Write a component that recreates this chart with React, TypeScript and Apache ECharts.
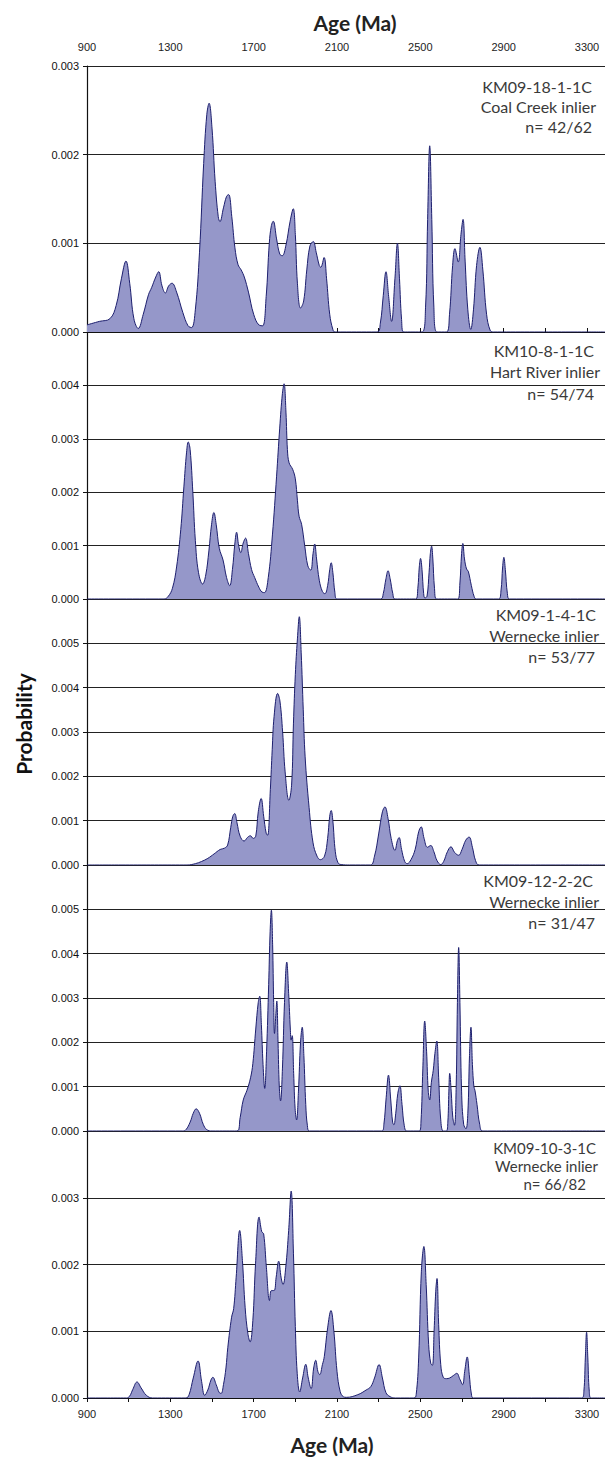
import React, { useEffect, useRef } from "react";
import * as echarts from "echarts";

// Age tick labels (Ma)
const xTickLabels = [900, 1300, 1700, 2100, 2500, 2900, 3300];
const yMaxes = [0.003, 0.005, 0.006, 0.006, 0.004];

// Sample names / regions / counts
const sampleIds = ["KM09-18-1-1C", "KM10-8-1-1C", "KM09-1-4-1C", "KM09-12-2-2C", "KM09-10-3-1C"];
const sampleRegions = ["Coal Creek inlier", "Hart River inlier", "Wernecke inlier", "Wernecke inlier", "Wernecke inlier"];
const sampleCounts = ["n= 42/62", "n= 54/74", "n= 53/77", "n= 31/47", "n= 66/82"];

// Probability density curves: [age Ma, probability x 0.001]
const curve1 = [
  [900, 0.08], [960, 0.12], [1010, 0.15], [1040, 0.3], [1065, 0.6], [1087, 0.8], [1105, 0.55], [1125, 0.15],
  [1146, 0.04], [1170, 0.2], [1195, 0.42], [1210, 0.5], [1230, 0.62], [1244, 0.68], [1260, 0.52], [1276, 0.44],
  [1292, 0.52], [1308, 0.55], [1330, 0.45], [1360, 0.22], [1385, 0.07], [1402, 0.05], [1420, 0.25], [1440, 0.9],
  [1460, 1.9], [1475, 2.45], [1486, 2.58], [1500, 2.3], [1515, 1.7], [1530, 1.3], [1538, 1.245], [1555, 1.4],
  [1570, 1.53], [1580, 1.55], [1595, 1.3], [1610, 0.95], [1625, 0.76], [1640, 0.7], [1655, 0.62], [1675, 0.45],
  [1700, 0.2], [1725, 0.08], [1743, 0.07], [1760, 0.4], [1775, 1.0], [1785, 1.2], [1794, 1.25], [1810, 1.05],
  [1825, 0.88], [1837, 0.86], [1855, 0.98], [1875, 1.25], [1890, 1.39], [1900, 1.1], [1910, 0.55], [1925, 0.27],
  [1940, 0.35], [1955, 0.7], [1970, 0.97], [1986, 1.02], [2000, 0.9], [2015, 0.75], [2022, 0.73], [2038, 0.84],
  [2050, 0.6], [2065, 0.2], [2080, 0.03], [2090, 0], [2292, 0], [2308, 0.1], [2322, 0.41], [2335, 0.68],
  [2348, 0.4], [2362, 0.12], [2378, 0.6], [2390, 1.0], [2400, 0.6], [2410, 0.14], [2420, 0], [2508, 0],
  [2525, 0.28], [2535, 1.27], [2545, 2.1], [2555, 1.27], [2565, 0.28], [2580, 0], [2625, 0], [2640, 0.2],
  [2655, 0.75], [2666, 0.94], [2682, 0.79], [2695, 1.1], [2705, 1.27], [2715, 0.8], [2728, 0.25], [2742, 0.03],
  [2755, 0.25], [2770, 0.75], [2786, 0.955], [2800, 0.7], [2818, 0.2], [2835, 0.02], [2850, 0], [3387, 0],
];

const curve2 = [
  [900, 0], [1270, 0], [1290, 0.05], [1310, 0.2], [1330, 0.6], [1350, 1.3], [1365, 2.1], [1378, 2.75],
  [1386, 2.94], [1395, 2.8], [1408, 2.0], [1420, 1.1], [1435, 0.5], [1455, 0.28], [1470, 0.45], [1485, 0.9],
  [1498, 1.4], [1509, 1.62], [1520, 1.4], [1535, 0.95], [1553, 0.73], [1570, 0.4], [1585, 0.25], [1598, 0.55],
  [1610, 1.05], [1618, 1.25], [1628, 1.0], [1638, 0.87], [1650, 1.05], [1661, 1.14], [1675, 0.85], [1690, 0.55],
  [1705, 0.4], [1725, 0.22], [1740, 0.13], [1752, 0.12], [1770, 0.4], [1790, 1.2], [1810, 2.3], [1825, 3.2],
  [1838, 3.85], [1846, 4.03], [1855, 3.5], [1862, 2.8], [1870, 2.55], [1887, 2.43], [1900, 2.25], [1910, 1.85],
  [1918, 1.55], [1930, 1.4], [1945, 1.0], [1960, 0.62], [1974, 0.54], [1985, 0.85], [1993, 1.03], [2002, 0.75],
  [2015, 0.35], [2030, 0.14], [2042, 0.1], [2055, 0.25], [2065, 0.55], [2072, 0.68], [2080, 0.5], [2090, 0.12],
  [2100, 0], [2310, 0], [2322, 0.1], [2335, 0.38], [2345, 0.53], [2355, 0.38], [2368, 0.1], [2378, 0],
  [2478, 0], [2488, 0.2], [2495, 0.6], [2501, 0.76], [2508, 0.55], [2516, 0.1], [2522, 0.02], [2532, 0.05],
  [2542, 0.5], [2548, 0.85], [2554, 0.99], [2560, 0.75], [2568, 0.2], [2578, 0], [2680, 0], [2690, 0.3],
  [2698, 0.85], [2704, 1.04], [2712, 0.75], [2722, 0.56], [2730, 0.52], [2745, 0.25], [2758, 0.05], [2768, 0],
  [2875, 0], [2887, 0.15], [2895, 0.6], [2901, 0.78], [2908, 0.55], [2918, 0.1], [2928, 0], [3387, 0],
];

const curve3 = [
  [900, 0], [1380, 0], [1420, 0.03], [1450, 0.08], [1480, 0.15], [1510, 0.25], [1539, 0.35], [1560, 0.38],
  [1575, 0.45], [1590, 0.85], [1600, 1.1], [1609, 1.16], [1620, 0.95], [1635, 0.65], [1654, 0.54], [1670, 0.62],
  [1684, 0.66], [1698, 0.6], [1710, 0.65], [1722, 1.2], [1736, 1.5], [1748, 1.1], [1760, 0.72], [1767, 0.67],
  [1780, 1.7], [1789, 2.6], [1798, 3.35], [1815, 3.87], [1826, 3.7], [1839, 3.0], [1851, 2.1], [1869, 1.46],
  [1882, 1.8], [1891, 3.2], [1900, 4.3], [1910, 5.1], [1919, 5.6], [1928, 4.8], [1938, 3.5], [1947, 2.44],
  [1966, 1.3], [1985, 0.5], [2004, 0.2], [2020, 0.12], [2040, 0.2], [2055, 0.6], [2065, 1.1], [2072, 1.23],
  [2080, 1.0], [2092, 0.3], [2105, 0.05], [2120, 0.01], [2160, 0], [2260, 0], [2280, 0.2], [2300, 0.7],
  [2318, 1.2], [2330, 1.31], [2345, 1.05], [2360, 0.6], [2378, 0.33], [2390, 0.55], [2398, 0.62], [2410, 0.35],
  [2425, 0.08], [2437, 0.03], [2455, 0.12], [2475, 0.35], [2492, 0.75], [2504, 0.86], [2518, 0.6], [2534, 0.4],
  [2550, 0.44], [2565, 0.3], [2580, 0.1], [2598, 0.01], [2612, 0.08], [2630, 0.3], [2647, 0.41], [2665, 0.28],
  [2684, 0.22], [2700, 0.35], [2718, 0.56], [2734, 0.63], [2750, 0.4], [2765, 0.1], [2782, 0], [3387, 0],
];

const curve4 = [
  [900, 0], [1360, 0], [1375, 0.03], [1395, 0.2], [1410, 0.4], [1424, 0.5], [1440, 0.4], [1458, 0.15],
  [1475, 0.03], [1500, 0], [1620, 0], [1635, 0.3], [1650, 0.7], [1668, 0.92], [1685, 1.2], [1696, 1.52],
  [1710, 2.3], [1722, 2.9], [1729, 3.04], [1737, 2.4], [1745, 1.5], [1753, 0.96], [1762, 1.8], [1772, 3.3],
  [1779, 4.5], [1785, 4.98], [1791, 4.2], [1796, 2.9], [1800, 2.2], [1806, 2.6], [1811, 2.93], [1817, 2.0],
  [1823, 1.0], [1829, 0.68], [1838, 1.4], [1848, 2.9], [1859, 3.81], [1868, 3.1], [1876, 2.3], [1880, 2.05],
  [1885, 2.15], [1892, 1.3], [1899, 0.5], [1906, 0.25], [1915, 0.9], [1925, 2.0], [1933, 2.34], [1941, 1.7],
  [1950, 0.6], [1958, 0.12], [1968, 0], [2315, 0], [2325, 0.15], [2336, 0.75], [2347, 1.26], [2358, 0.7],
  [2367, 0.2], [2373, 0.14], [2382, 0.4], [2392, 0.85], [2402, 1.02], [2412, 0.6], [2423, 0.12], [2435, 0],
  [2495, 0], [2503, 0.2], [2512, 1.4], [2521, 2.48], [2530, 1.8], [2538, 0.9], [2545, 0.7], [2553, 1.1],
  [2562, 1.37], [2570, 1.75], [2579, 2.03], [2588, 1.2], [2598, 0.25], [2610, 0], [2625, 0], [2632, 0.2],
  [2637, 0.9], [2641, 1.3], [2648, 0.9], [2656, 0.3], [2664, 0.13], [2672, 1.0], [2678, 2.9], [2684, 4.14],
  [2690, 2.9], [2698, 0.9], [2708, 0.15], [2719, 0.05], [2728, 0.4], [2736, 1.7], [2743, 2.34], [2750, 1.5],
  [2757, 1.0], [2762, 0.92], [2772, 0.6], [2785, 0.15], [2800, 0], [3387, 0],
];

const curve5 = [
  [900, 0], [1090, 0], [1105, 0.03], [1120, 0.13], [1140, 0.24], [1160, 0.15], [1185, 0.04], [1215, 0],
  [1375, 0], [1390, 0.05], [1410, 0.3], [1433, 0.555], [1450, 0.25], [1465, 0.04], [1480, 0.12], [1495, 0.27],
  [1504, 0.31], [1520, 0.2], [1535, 0.08], [1544, 0.07], [1555, 0.2], [1567, 0.45], [1576, 0.76], [1594, 1.21],
  [1604, 1.34], [1616, 1.81], [1633, 2.51], [1646, 2.06], [1659, 1.36], [1672, 0.97], [1683, 0.84], [1696, 1.16],
  [1709, 2.01], [1726, 2.71], [1739, 2.49], [1748, 2.46], [1761, 1.96], [1776, 1.46], [1785, 1.61], [1798, 1.61],
  [1808, 1.81], [1820, 2.05], [1832, 1.8], [1841, 1.7], [1854, 1.96], [1868, 2.51], [1880, 3.1], [1891, 2.16],
  [1900, 1.07], [1909, 0.37], [1921, 0.09], [1935, 0.3], [1950, 0.505], [1962, 0.3], [1976, 0.14], [1988, 0.45],
  [1998, 0.565], [2008, 0.4], [2017, 0.35], [2030, 0.5], [2039, 0.62], [2055, 1.05], [2071, 1.31], [2085, 1.0],
  [2100, 0.4], [2115, 0.1], [2130, 0.02], [2145, 0.01], [2200, 0.05], [2240, 0.12], [2262, 0.17], [2280, 0.3],
  [2302, 0.5], [2318, 0.3], [2335, 0.08], [2355, 0.02], [2380, 0], [2470, 0], [2480, 0.05], [2492, 0.6],
  [2505, 1.9], [2517, 2.27], [2528, 1.7], [2540, 0.8], [2550, 0.52], [2558, 0.49], [2566, 1.0], [2574, 1.6],
  [2580, 1.79], [2588, 1.1], [2598, 0.5], [2610, 0.31], [2625, 0.29], [2641, 0.3], [2660, 0.34], [2675, 0.37],
  [2690, 0.28], [2703, 0.2], [2713, 0.4], [2725, 0.615], [2735, 0.35], [2745, 0.06], [2755, 0], [3275, 0],
  [3285, 0.1], [3292, 0.6], [3298, 0.985], [3304, 0.6], [3311, 0.1], [3320, 0], [3387, 0],
];

const curves = [curve1, curve2, curve3, curve4, curve5];

export default function App() {
  const ref = useRef<HTMLDivElement>(null);
  useEffect(() => {
    if (!ref.current) return;
    const chart = echarts.init(ref.current, null, { renderer: "svg" });
    const tops = [66, 332, 599, 865, 1131];
    const heights = [266, 267, 266, 266, 267];
    const left = 87;
    const width = 518;
    const xMax = 900 + width * 4.8;
    const axisColor = "#111";

    const grids = tops.map((t, i) => ({ left, top: t, width, height: heights[i] }));
    const xAxes = tops.map((_, i) => ({
      type: "value",
      gridIndex: i,
      min: 900,
      max: xMax,
      interval: 200,
      position: i === 0 ? "top" : "bottom",
      show: i === 0 || i === 4,
      axisLine: { show: true, lineStyle: { color: axisColor, width: 1.2 } },
      axisTick: { show: true, length: 4, lineStyle: { color: axisColor } },
      axisLabel: {
        show: true,
        margin: i === 0 ? 14 : 10,
        fontFamily: "Arial, Liberation Sans, sans-serif",
        fontSize: 11,
        color: "#222",
        showMaxLabel: false,
        formatter: (v: number) => (xTickLabels.includes(Math.round(v)) ? String(Math.round(v)) : ""),
      },
      splitLine: { show: false },
    }));
    const yAxes = tops.map((_, i) => ({
      type: "value",
      gridIndex: i,
      min: 0,
      max: yMaxes[i],
      interval: 0.001,
      axisLine: { show: true, lineStyle: { color: axisColor, width: 1.2 } },
      axisTick: { show: true, length: 4, lineStyle: { color: axisColor } },
      axisLabel: {
        margin: 8,
        fontFamily: "Arial, Liberation Sans, sans-serif",
        fontSize: 11,
        color: "#111",
        showMaxLabel: i === 0,
        formatter: (v: number) => v.toFixed(3),
      },
      splitLine: { show: true, lineStyle: { color: "#222", width: 1 } },
    }));
    const series = curves.map((c, i) => ({
      type: "line",
      xAxisIndex: i,
      yAxisIndex: i,
      data: c.map(([a, v]) => [a, v * 0.001]),
      smooth: 0.4,
      symbol: "none",
      clip: true,
      lineStyle: { color: "#1d1f6e", width: 1 },
      areaStyle: { color: "#9597c9", opacity: 1 },
      z: 3,
    }));

    const labelLayout = [
      { ys: [86, 106, 126], xs: [592, 596, 592], size: 16 },
      { ys: [350, 371, 393], xs: [594, 600, 594], size: 16 },
      { ys: [614, 635, 656], xs: [596, 599, 595], size: 16 },
      { ys: [880, 901, 922], xs: [593, 599, 595], size: 16 },
      { ys: [1148, 1166, 1184], xs: [596, 598, 586], size: 15 },
    ];
    const labelFont = "Lato, 'Open Sans', sans-serif";
    const graphics: any[] = [];
    labelLayout.forEach((l, i) => {
      const texts = [sampleIds[i], sampleRegions[i], sampleCounts[i]];
      texts.forEach((t, k) => {
        graphics.push({
          type: "text",
          x: l.xs[k],
          y: l.ys[k],
          z: 10,
          style: {
            text: t,
            fill: "#3a3a3a",
            font: `${l.size}px ${labelFont}`,
            textAlign: "right",
            textVerticalAlign: "middle",
          },
        });
      });
    });
    graphics.push({
      type: "text",
      x: 355,
      y: 22,
      style: { text: "Age (Ma)", fill: "#222", font: `bold 21px ${labelFont}`, textAlign: "center", textVerticalAlign: "middle" },
    });
    graphics.push({
      type: "text",
      x: 332,
      y: 1444,
      style: { text: "Age (Ma)", fill: "#222", font: `bold 21px ${labelFont}`, textAlign: "center", textVerticalAlign: "middle" },
    });
    graphics.push({
      type: "text",
      x: 23,
      y: 724,
      rotation: Math.PI / 2,
      style: { text: "Probability", fill: "#111", font: `bold 21px ${labelFont}`, textAlign: "center", textVerticalAlign: "middle" },
    });

    chart.setOption({
      animation: false,
      backgroundColor: "#ffffff",
      grid: grids,
      xAxis: xAxes,
      yAxis: yAxes,
      series,
      graphic: graphics,
    });
    return () => chart.dispose();
  }, []);
  return <div ref={ref} style={{ position: "absolute", left: 0, top: 0, width: 605, height: 1458 }} />;
}
